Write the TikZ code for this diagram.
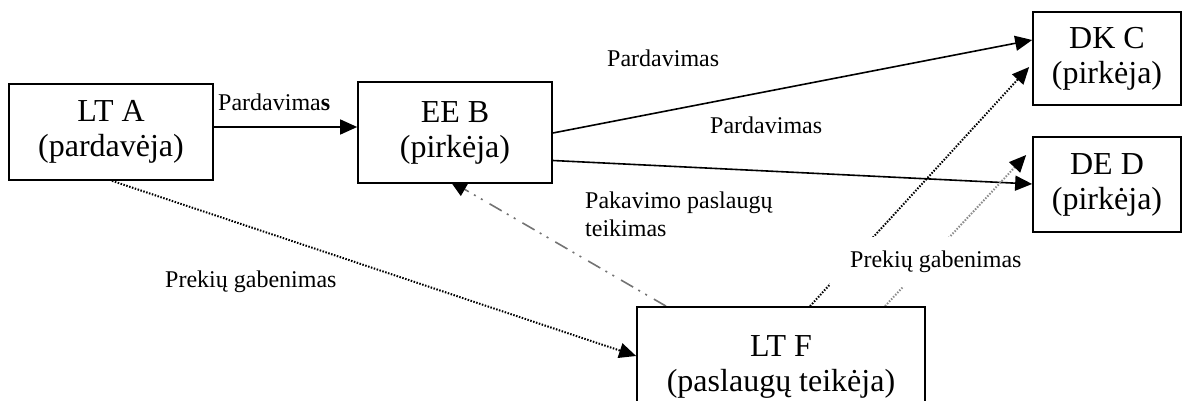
\documentclass[tikz,border=0pt]{standalone}
\usepackage{fontspec}
\setmainfont{Liberation Serif}
\usetikzlibrary{arrows.meta,backgrounds}
\tikzset{
  box/.style={draw, line width=1.7pt, fill=white, align=center, inner sep=0pt,
    font=\fontsize{32}{35}\selectfont},
  lbl/.style={anchor=west, inner sep=0pt, align=left, font=\fontsize{24}{28}\selectfont},
  tip/.style={-{Triangle[length=17pt,width=15pt,color=black,fill=black]}},
  solidarrow/.style={tip, line width=1.6pt},
  dotarrow/.style={tip, line width=2pt, dash pattern=on 1.5pt off 1.5pt},
  graydotarrow/.style={dotarrow, draw=black!45},
  dashdotdotarrow/.style={tip, line width=1.6pt, draw=black!55,
    dash pattern=on 14pt off 8pt on 2pt off 6pt on 2pt off 6pt}
}
\begin{document}
\begin{tikzpicture}[x=1pt,y=-1pt]
\useasboundingbox (0,0) rectangle (1190,401);
% boxes
\node[box, minimum width=204pt, minimum height=96pt] (LTA) at (111,132) {LT A\\(pardavėja)};
\node[box, minimum width=194pt, minimum height=101pt] (EEB) at (455,132.5) {EE B\\(pirkėja)};
\node[box, minimum width=148pt, minimum height=93pt] (DKC) at (1107,58.5) {DK C\\(pirkėja)};
\node[box, minimum width=148pt, minimum height=95pt] (DED) at (1107,184.5) {DE D\\(pirkėja)};
\node[box, minimum width=288pt, minimum height=120pt] (LTF) at (781,367) {LT F\\(paslaugų teikėja)};
% connectors
\begin{scope}[on background layer]
\draw[solidarrow] ([yshift=5pt]LTA.east) -- ([yshift=5.5pt]EEB.west);
\draw[solidarrow] ([yshift=-0.5pt]EEB.east) -- ([yshift=18.5pt]DKC.west);
\draw[solidarrow] ([yshift=-28pt]EEB.east) -- ([yshift=0.5pt]DED.west);
\draw[dotarrow] ([xshift=1pt]LTA.south) -- ([yshift=11pt]LTF.west);
\draw[dashdotdotarrow] ([xshift=-115pt]LTF.north) -- ([xshift=-5pt,yshift=3pt]EEB.south);
\draw[dotarrow] ([xshift=29pt]LTF.north) -- ([xshift=-3pt,yshift=-8.5pt]DKC.west);
\draw[graydotarrow] ([xshift=104pt]LTF.north) -- ([xshift=-6pt,yshift=29.5pt]DED.west);
\end{scope}
% labels
\node[lbl] (l1) at (218,102) {Pardavima\textbf{s}};
\node[lbl] (l2) at (607,58) {Pardavimas};
\node[lbl] (l3) at (710,125) {Pardavimas};
\node[lbl] (l4) at (585,214) {Pakavimo paslaugų\\teikimas};
\node[lbl] (l5) at (165,282) {Prekių gabenimas};
\node[lbl, fill=white, inner xsep=20pt, inner ysep=0pt, minimum height=50pt] (l6) at (830,262) {Prekių gabenimas};
\end{tikzpicture}
\end{document}
